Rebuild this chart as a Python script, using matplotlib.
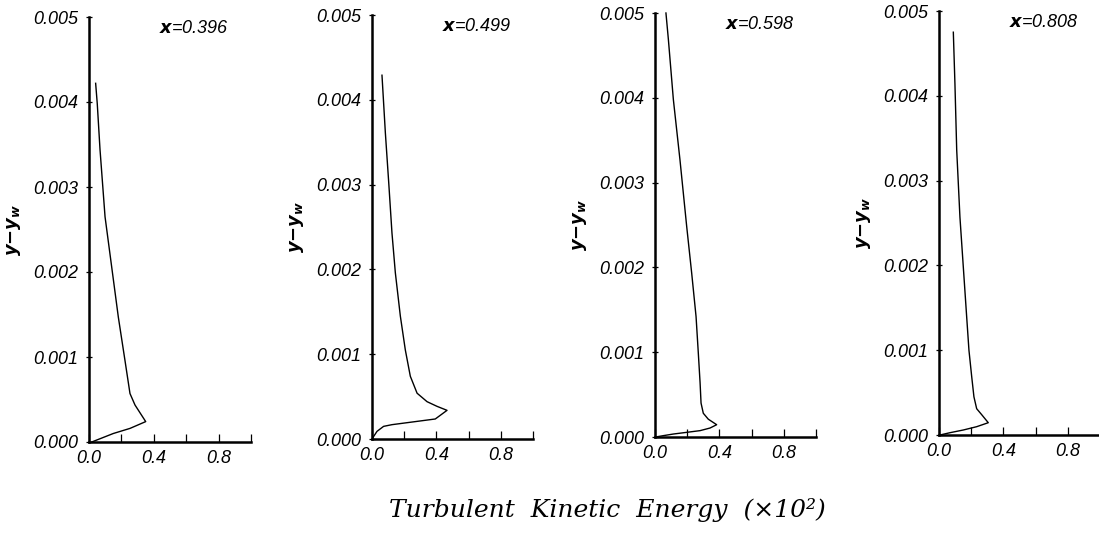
import matplotlib
matplotlib.use("Agg")
import matplotlib.pyplot as plt
import numpy as np

plt.rcParams['mathtext.fontset'] = 'custom'
plt.rcParams['mathtext.it'] = 'DejaVu Sans:italic:bold'
plt.rcParams['mathtext.rm'] = 'DejaVu Sans:bold'

# --- data (TKE x1e2 vs wall distance) ---
stations = ['0.396', '0.499', '0.598', '0.808']

tke_396 = [0.041, 0.051, 0.068, 0.099, 0.140, 0.181, 0.222, 0.253, 0.284, 0.350,
           0.253, 0.150, 0.017]
dy_396 = [0.00422, 0.00398, 0.00344, 0.00265, 0.00206, 0.00147, 0.00096, 0.00057,
          0.000435, 0.00024, 0.00016, 0.00010, 0.0]

tke_499 = [0.062, 0.083, 0.104, 0.124, 0.145, 0.176, 0.207, 0.238, 0.280, 0.342,
           0.404, 0.466, 0.393, 0.124, 0.072, 0.031, 0.004]
dy_499 = [0.00429, 0.00361, 0.00302, 0.00243, 0.00196, 0.00145, 0.00105, 0.00074,
          0.00054, 0.00044, 0.000385, 0.000338, 0.000236, 0.000169, 0.000149,
          0.00009, 0.000012]

tke_598 = [0.068, 0.083, 0.114, 0.155, 0.197, 0.228, 0.255, 0.269, 0.280, 0.286,
           0.300, 0.331, 0.383, 0.342, 0.280, 0.197, 0.114, 0.052, 0.004]
dy_598 = [0.0050, 0.00469, 0.00398, 0.00327, 0.00248, 0.00193, 0.00142, 0.00099,
          0.00064, 0.00040, 0.00028, 0.00021, 0.000145, 0.000106, 0.000075,
          0.000055, 0.000035, 0.000016, 0.0]

tke_808 = [0.089, 0.099, 0.110, 0.130, 0.151, 0.172, 0.186, 0.203, 0.217, 0.234,
           0.265, 0.306, 0.234, 0.151, 0.068, 0.006]
dy_808 = [0.00475, 0.00414, 0.00336, 0.00257, 0.00198, 0.00139, 0.00100, 0.00069,
          0.00045, 0.00031, 0.00024, 0.000145, 0.000098, 0.000059, 0.000027, 0.0]

tke = [tke_396, tke_499, tke_598, tke_808]
dy = [dy_396, dy_499, dy_598, dy_808]

xticks = [0.0, 0.2, 0.4, 0.6, 0.8, 1.0]
xticklabels = ['0.0', '', '0.4', '', '0.8', '']
yticks = [0.000, 0.001, 0.002, 0.003, 0.004, 0.005]
yticklabels = ['0.000', '0.001', '0.002', '0.003', '0.004', '0.005']

# axes boxes in pixels: left, right, top, bottom
boxes = [(89, 251, 17, 442), (372, 533, 15, 439), (655, 816, 13, 437), (939, 1100, 11, 435)]

W, H = 1099, 535
fig = plt.figure(figsize=(W / 100, H / 100), dpi=100)

tick_font = dict(family='Liberation Sans', style='italic', size=13)

for i in range(4):
    l, r, t, b = boxes[i]
    ax = fig.add_axes([l / W, 1 - b / H, (r - l) / W, (b - t) / H])
    ax.plot(tke[i], dy[i], color='black', lw=1.0, clip_on=False)
    ax.set_xlim(0, 1.0)
    ax.set_ylim(0, 0.005)

    for s in ['top', 'right']:
        ax.spines[s].set_visible(False)
    for s in ['left', 'bottom']:
        ax.spines[s].set_linewidth(1.8)

    ax.set_xticks(xticks)
    ax.set_xticklabels(xticklabels, fontdict=tick_font)
    ax.set_yticks(yticks)
    ax.set_yticklabels(yticklabels, fontdict=tick_font)
    ax.tick_params(axis='x', direction='in', length=6, width=0.9, pad=6)
    ax.tick_params(axis='y', direction='inout', length=5, width=0.9, pad=5)

    ax.set_ylabel(r'$y{-}y_w$', fontsize=13)
    ax.yaxis.set_label_coords(-0.41, 0.5)

    ax.text(0.65, 0.00486, r'$x$=' + stations[i], ha='center', va='center',
            family='Liberation Sans', style='italic', fontsize=13)

fig.text(607 / W, 1 - 517 / H, 'Turbulent  Kinetic  Energy  (×10²)', ha='center',
         va='baseline', family='DejaVu Serif', style='italic', fontsize=18)

fig.savefig('out.png', dpi=100)
